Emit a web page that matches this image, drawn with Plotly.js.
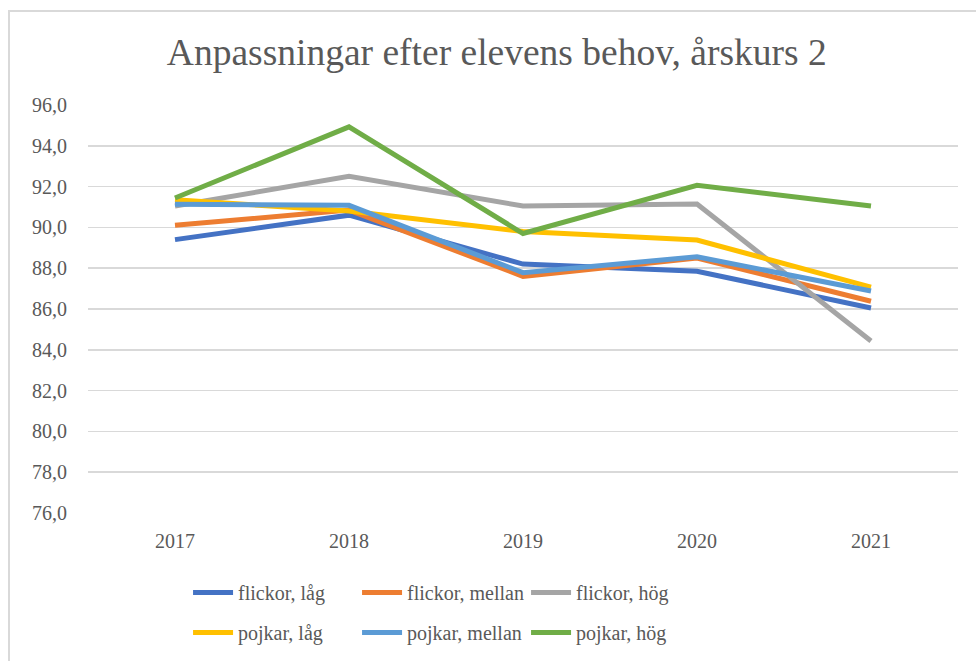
<!DOCTYPE html>
<html>
<head>
<meta charset="utf-8">
<script src="https://cdn.plot.ly/plotly-3.0.1.min.js"></script>
<style>
html,body{margin:0;padding:0;background:#fff;}
#chart{width:976px;height:661px;}
#frame{position:absolute;left:8px;top:10px;width:1000px;height:700px;border-left:2px solid #D9D9D9;border-top:2px solid #D9D9D9;pointer-events:none;}
</style>
</head>
<body>
<div id="chart"></div>
<div id="frame"></div>
<script>
const years = ['2017','2018','2019','2020','2021'];
const flickorLag    = [89.4, 90.6, 88.2, 87.85, 86.05];
const flickorMellan = [90.1, 90.85, 87.6, 88.5, 86.38];
const flickorHog    = [91.05, 92.5, 91.05, 91.15, 84.43];
const pojkarLag     = [91.35, 90.8, 89.8, 89.38, 87.07];
const pojkarMellan  = [91.13, 91.08, 87.78, 88.56, 86.88];
const pojkarHog     = [91.44, 94.93, 89.7, 92.06, 91.05];
const seriesNames = ['flickor, låg','flickor, mellan','flickor, hög','pojkar, låg','pojkar, mellan','pojkar, hög'];
const seriesValues = [flickorLag, flickorMellan, flickorHog, pojkarLag, pojkarMellan, pojkarHog];
const colors = ['#4472C4','#ED7D31','#A5A5A5','#FFC000','#5B9BD5','#70AD47'];
const yTicks = [76,78,80,82,84,86,88,90,92,94,96];

const font = 'Liberation Serif';
const traces = seriesNames.map((n,i)=>({
  x: years, y: seriesValues[i], name: n, type:'scatter', mode:'lines',
  line:{color:colors[i], width:5},
  legend: i < 3 ? 'legend' : 'legend2'
}));

const legendBase = {orientation:'h', x:0.115, xanchor:'left', yanchor:'middle',
          entrywidth:114, entrywidthmode:'pixels', font:{family:font, size:20, color:'#595959'},
          traceorder:'normal', itemwidth:40, bgcolor:'rgba(0,0,0,0)'};

const layout = {
  width:976, height:661,
  margin:{l:88, r:18, t:105, b:148, autoexpand:false},
  paper_bgcolor:'#fff', plot_bgcolor:'#fff',
  separators:', ',
  title:{text:'Anpassningar efter elevens behov, årskurs 2', font:{family:font, size:37.5, color:'#595959'},
         x:0.509, xref:'container', xanchor:'center', y:0.921, yref:'container', yanchor:'middle'},
  xaxis:{type:'category', range:[-0.5,4.5], showgrid:false, zeroline:false, showline:false,
         ticks:'', tickfont:{family:font, size:20, color:'#595959'}, ticklabelstandoff:14, fixedrange:true},
  yaxis:{range:[76,96], tickvals:yTicks, tickformat:'.1f', showgrid:true, gridcolor:'#D9D9D9', gridwidth:1.5,
         zeroline:false, showline:false, ticks:'', tickfont:{family:font, size:20, color:'#595959'},
         ticklabelstandoff:20, fixedrange:true},
  showlegend:true,
  legend: Object.assign({}, legendBase, {y:-0.195}),
  legend2: Object.assign({}, legendBase, {y:-0.293})
};
Plotly.newPlot('chart', traces, layout, {staticPlot:true, displayModeBar:false});
</script>
</body>
</html>
